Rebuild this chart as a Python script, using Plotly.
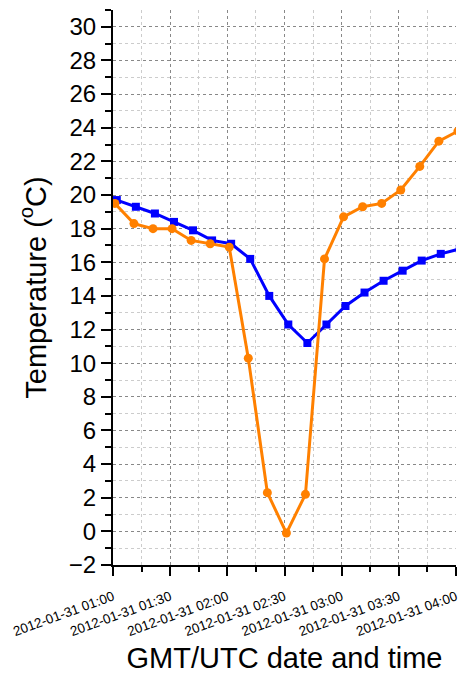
import plotly.graph_objects as go
import pandas as pd

# Sensor readings, one every 10 minutes
blue_times = pd.date_range("2012-01-31 01:02", periods=19, freq="10min")
blue_temps = [19.7, 19.3, 18.9, 18.4, 17.9, 17.3, 17.1, 16.2, 14.0, 12.3,
              11.2, 12.3, 13.4, 14.2, 14.9, 15.5, 16.1, 16.5, 16.8]

orange_times = pd.date_range("2012-01-31 01:01", periods=19, freq="10min")
orange_temps = [19.5, 18.3, 18.0, 18.0, 17.3, 17.1, 16.9, 10.3, 2.3, -0.1,
                2.2, 16.2, 18.7, 19.3, 19.5, 20.3, 21.7, 23.2, 23.8]

y_range = [-2, 31]
x_range = ["2012-01-31 01:00", "2012-01-31 04:00"]

fig = go.Figure()
fig.add_trace(go.Scatter(
    x=blue_times, y=blue_temps, mode="lines+markers",
    line=dict(color="#0000FF", width=3),
    marker=dict(symbol="square", size=8, color="#0000FF"),
    showlegend=False,
))
fig.add_trace(go.Scatter(
    x=orange_times, y=orange_temps, mode="lines+markers",
    line=dict(color="#FF8000", width=3),
    marker=dict(symbol="circle", size=9, color="#FF8000"),
    showlegend=False,
))

font_family = "Liberation Sans, Arial, sans-serif"

fig.update_layout(
    width=459, height=676,
    margin=dict(l=113, r=0, t=10, b=111),
    plot_bgcolor="white", paper_bgcolor="white",
    font=dict(family=font_family, color="black"),
)

fig.update_xaxes(
    type="date", range=x_range,
    dtick=30 * 60 * 1000, tick0="2012-01-31 01:00",
    tickformat="%Y-%m-%d %H:%M", tickangle=-20,
    tickfont=dict(size=13.5, family=font_family),
    ticklabeloverflow="allow", ticklabelstandoff=8,
    ticks="outside", ticklen=9, tickwidth=2, tickcolor="black",
    showline=True, linecolor="black", linewidth=2,
    showgrid=True, gridcolor="#888888", griddash="dot", gridwidth=1,
    zeroline=False,
    minor=dict(dtick=15 * 60 * 1000, ticks="outside", ticklen=5, tickwidth=2,
               tickcolor="black", showgrid=True, gridcolor="#CCCCCC",
               griddash="dot", gridwidth=1),
    title=dict(text="GMT/UTC date and time", font=dict(size=29), standoff=10),
)

fig.update_yaxes(
    range=y_range, dtick=2, tick0=0,
    tickfont=dict(size=24, family=font_family),
    ticks="outside", ticklen=10, tickwidth=2, tickcolor="black",
    showline=True, linecolor="black", linewidth=2,
    showgrid=True, gridcolor="#888888", griddash="dot", gridwidth=1,
    zeroline=False,
    minor=dict(dtick=1, ticks="outside", ticklen=6, tickwidth=2,
               tickcolor="black", showgrid=True, gridcolor="#CCCCCC",
               griddash="dot", gridwidth=1),
    title=dict(text="Temperature (<sup>o</sup>C)", font=dict(size=29), standoff=14),
)

fig.write_html("out.html")
